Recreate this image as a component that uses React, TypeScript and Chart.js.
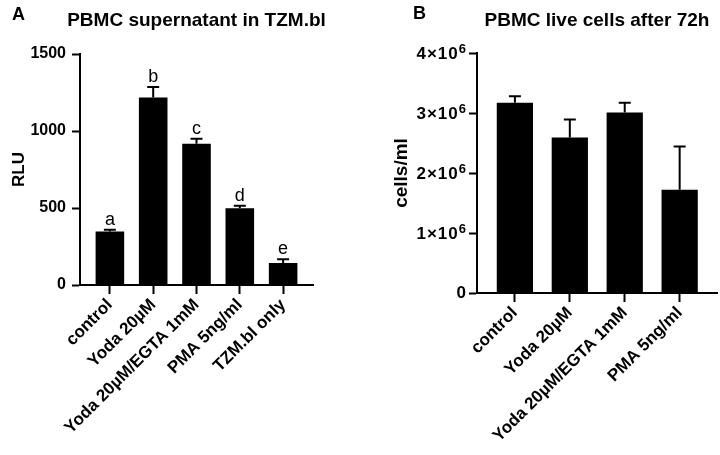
import React, { useEffect, useRef } from "react";
import { Chart, registerables } from "chart.js";

Chart.register(...registerables);

// Panel A: luciferase readout (RLU)
const rluCategories = ["control", "Yoda 20µM", "Yoda 20µM/EGTA 1mM", "PMA 5ng/ml", "TZM.bl only"];
const rluMeans = [348, 1218, 917, 499, 143];
const rluErrors = [10, 67, 32, 15, 24];
const rluLetters = ["a", "b", "c", "d", "e"];
const rluTicks = [0, 500, 1000, 1500];

// Panel B: live PBMC counts after 72h
const cellCategories = ["control", "Yoda 20µM", "Yoda 20µM/EGTA 1mM", "PMA 5ng/ml"];
const cellMeans = [3.17e6, 2.59e6, 3.01e6, 1.72e6];
const cellErrors = [0.11e6, 0.3e6, 0.16e6, 0.72e6];
const cellTicks = [0, 1e6, 2e6, 3e6, 4e6];

const FONT = "'Liberation Sans', Arial, Helvetica, sans-serif";

type PanelSpec = {
  letter: string;
  letterX: number;
  letterY: number;
  title: string;
  categories: string[];
  means: number[];
  errors: number[];
  letters?: string[];
  ticks: number[];
  sciTicks: boolean;
  yTitle: string;
  yTitleSize: number;
  yTitlePad: number;
  yAxisWidth: number;
  xAxisHeight: number;
  padRight: number;
  padTop: number;
  xMin: number;
  xMax: number;
};

// Draws "m×10ⁿ" with a raised exponent, right-aligned at x
function drawSci(ctx: CanvasRenderingContext2D, v: number, x: number, y: number) {
  if (v === 0) {
    ctx.font = `bold 17px ${FONT}`;
    ctx.textAlign = "right";
    ctx.textBaseline = "middle";
    ctx.fillText("0", x, y);
    return;
  }
  const exp = Math.floor(Math.log10(v));
  const mant = Math.round(v / Math.pow(10, exp));
  const base = `${mant}×10`;
  const sup = String(exp);
  ctx.textAlign = "left";
  ctx.textBaseline = "alphabetic";
  ctx.font = `bold 13px ${FONT}`;
  const supW = ctx.measureText(sup).width;
  ctx.font = `bold 17px ${FONT}`;
  (ctx as any).letterSpacing = "1px";
  const baseW = ctx.measureText(base).width;
  const baseline = y + 6;
  ctx.fillText(base, x - supW - baseW, baseline);
  (ctx as any).letterSpacing = "0px";
  ctx.font = `bold 13px ${FONT}`;
  ctx.fillText(sup, x - supW, baseline - 6);
}

function decorPlugin(spec: PanelSpec) {
  return {
    id: "panelDecor",
    afterDatasetsDraw(chart: any) {
      const { ctx, chartArea, scales } = chart;
      const y = scales.y;
      const meta = chart.getDatasetMeta(0);
      ctx.save();
      ctx.strokeStyle = "#000";
      ctx.fillStyle = "#000";
      ctx.lineWidth = 2;
      meta.data.forEach((bar: any, i: number) => {
        const top = y.getPixelForValue(spec.means[i] + spec.errors[i]);
        ctx.beginPath();
        ctx.moveTo(bar.x, bar.y);
        ctx.lineTo(bar.x, top);
        ctx.moveTo(bar.x - 6, top);
        ctx.lineTo(bar.x + 6, top);
        ctx.stroke();
        if (spec.letters) {
          ctx.font = `18px ${FONT}`;
          ctx.textAlign = "center";
          ctx.textBaseline = "alphabetic";
          ctx.fillText(spec.letters[i], bar.x, top - 5);
        }
      });
      if (spec.sciTicks) {
        spec.ticks.forEach((v) => drawSci(ctx, v, chartArea.left - 11, y.getPixelForValue(v)));
      }
      // panel letter and title
      ctx.textBaseline = "alphabetic";
      ctx.textAlign = "left";
      ctx.font = `bold 18px ${FONT}`;
      ctx.fillText(spec.letter, spec.letterX, spec.letterY);
      ctx.textAlign = "center";
      ctx.font = `bold 19px ${FONT}`;
      ctx.fillText(spec.title, (chartArea.left + chartArea.right) / 2, 26);
      ctx.restore();
    },
  };
}

function Panel({ spec }: { spec: PanelSpec }) {
  const ref = useRef<HTMLCanvasElement>(null);
  useEffect(() => {
    const canvas = ref.current;
    if (!canvas) return;
    const chart = new Chart(canvas, {
      type: "bar",
      data: {
        datasets: [
          {
            data: spec.means.map((v, i) => ({ x: i, y: v })),
            backgroundColor: "#000",
            borderWidth: 0,
            categoryPercentage: 1,
            barPercentage: 0.66,
          },
        ],
      },
      options: {
        responsive: false,
        animation: false,
        devicePixelRatio: 1,
        layout: { padding: { left: 0, right: spec.padRight, top: spec.padTop, bottom: 0 } },
        plugins: { legend: { display: false }, tooltip: { enabled: false }, title: { display: false } },
        scales: {
          x: {
            type: "linear",
            min: spec.xMin,
            max: spec.xMax,
            offset: false,
            afterBuildTicks: (s: any) => {
              s.ticks = spec.categories.map((_, i) => ({ value: i }));
            },
            afterFit: (s: any) => {
              s.height = spec.xAxisHeight;
            },
            ticks: {
              autoSkip: false,
              minRotation: 45,
              maxRotation: 45,
              padding: 1,
              color: "#000",
              font: { family: FONT, size: 17, weight: "bold" },
              callback: (v: any) => spec.categories[Math.round(Number(v))] ?? "",
            },
            grid: {
              display: true,
              drawOnChartArea: false,
              drawTicks: true,
              tickLength: 9,
              tickWidth: 2,
              tickColor: "#000",
              offset: false,
            },
            border: { display: true, color: "#000", width: 2 },
          },
          y: {
            min: 0,
            max: spec.ticks[spec.ticks.length - 1],
            afterBuildTicks: (s: any) => {
              s.ticks = spec.ticks.map((v) => ({ value: v }));
            },
            afterFit: (s: any) => {
              s.width = spec.yAxisWidth;
            },
            ticks: {
              padding: 6,
              color: spec.sciTicks ? "rgba(0,0,0,0)" : "#000",
              font: { family: FONT, size: 16, weight: "bold" },
              callback: (v: any) => String(v),
            },
            grid: {
              display: true,
              drawOnChartArea: false,
              drawTicks: true,
              tickLength: 8,
              tickWidth: 2,
              tickColor: "#000",
            },
            border: { display: true, color: "#000", width: 2 },
            title: {
              display: true,
              text: spec.yTitle,
              color: "#000",
              padding: { top: spec.yTitlePad, bottom: 0 },
              font: { family: FONT, size: spec.yTitleSize, weight: "bold" },
            },
          },
        },
      },
      plugins: [decorPlugin(spec)],
    } as any);
    return () => chart.destroy();
  }, [spec]);
  return <canvas ref={ref} width={360} height={455} style={{ display: "block", width: 360, height: 455 }} />;
}

const panelA: PanelSpec = {
  letter: "A",
  letterX: 12,
  letterY: 20,
  title: "PBMC supernatant in TZM.bl",
  categories: rluCategories,
  means: rluMeans,
  errors: rluErrors,
  letters: rluLetters,
  ticks: rluTicks,
  sciTicks: false,
  yTitle: "RLU",
  yTitleSize: 17,
  yTitlePad: 9,
  yAxisWidth: 80,
  xAxisHeight: 170,
  padRight: 47,
  padTop: 54,
  xMin: -0.69,
  xMax: 4.69,
};

const panelB: PanelSpec = {
  letter: "B",
  letterX: 53,
  letterY: 19,
  title: "PBMC live cells after 72h",
  categories: cellCategories,
  means: cellMeans,
  errors: cellErrors,
  ticks: cellTicks,
  sciTicks: true,
  yTitle: "cells/ml",
  yTitleSize: 19,
  yTitlePad: 30,
  yAxisWidth: 117,
  xAxisHeight: 162,
  padRight: 3,
  padTop: 53,
  xMin: -0.69,
  xMax: 3.68,
};

export default function App() {
  return (
    <div style={{ position: "fixed", left: 0, top: 0, width: 720, height: 455, background: "#fff", display: "flex" }}>
      <Panel spec={panelA} />
      <Panel spec={panelB} />
    </div>
  );
}
